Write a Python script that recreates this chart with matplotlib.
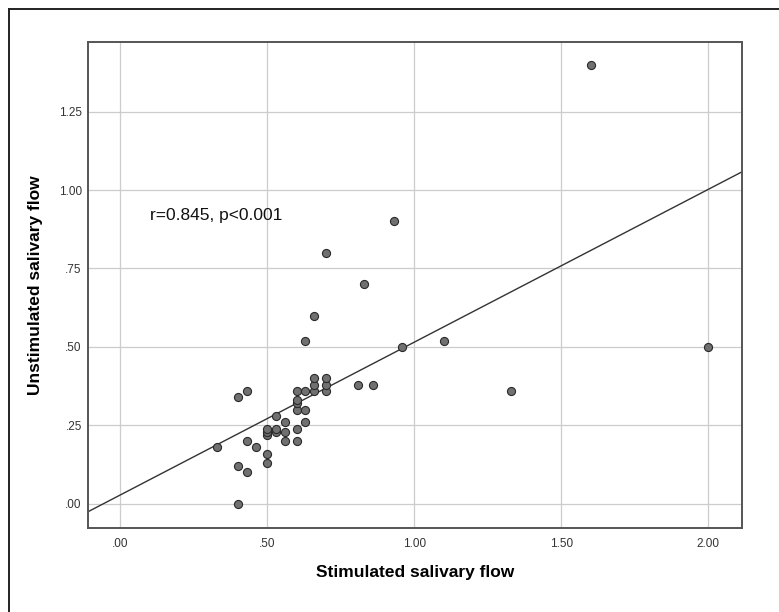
import numpy as np
import matplotlib
matplotlib.use("Agg")
import matplotlib.pyplot as plt
from matplotlib.lines import Line2D

plt.rcParams['font.family'] = ['Liberation Sans', 'DejaVu Sans']

# stimulated / unstimulated salivary flow
stimulated = [0.40, 0.43, 0.40, 0.50, 0.50, 0.33, 0.46, 0.43, 0.56, 0.60,
              0.50, 0.50, 0.50, 0.53, 0.53, 0.56, 0.60, 0.56, 0.63, 0.53,
              0.60, 0.63, 0.60, 0.60, 0.40, 0.43, 0.60, 0.63, 0.66, 0.66,
              0.66, 0.70, 0.70, 0.70, 0.81, 0.86, 0.63, 0.96, 0.66, 0.83,
              0.70, 0.93, 1.10, 1.33, 1.60, 2.00]
unstimulated = [0.00, 0.10, 0.12, 0.13, 0.16, 0.18, 0.18, 0.20, 0.20, 0.20,
                0.22, 0.23, 0.24, 0.23, 0.24, 0.23, 0.24, 0.26, 0.26, 0.28,
                0.30, 0.30, 0.32, 0.33, 0.34, 0.36, 0.36, 0.36, 0.36, 0.38,
                0.40, 0.36, 0.38, 0.40, 0.38, 0.38, 0.52, 0.50, 0.60, 0.70,
                0.80, 0.90, 0.52, 0.36, 1.40, 0.50]
x_ticks = [0.0, 0.5, 1.0, 1.5, 2.0]
x_labels = ['.00', '.50', '1.00', '1.50', '2.00']
y_ticks = [0.0, 0.25, 0.5, 0.75, 1.0, 1.25]
y_labels = ['.00', '.25', '.50', '.75', '1.00', '1.25']
annot = 'r=0.845, p<0.001'

x = np.array(stimulated)
y = np.array(unstimulated)

fig = plt.figure(figsize=(7.79, 6.12), dpi=100)
ax = fig.add_axes([0.113, 0.137, 0.839, 0.795])

# outer frame (only top and left edge are inside the picture)
fx = 8.5 / 779
fy = 1 - 9 / 612
fig.add_artist(Line2D([fx, fx], [0, fy], transform=fig.transFigure,
                      color='#222222', lw=1.4))
fig.add_artist(Line2D([fx, 1], [fy, fy], transform=fig.transFigure,
                      color='#222222', lw=1.4))

ax.set_xlim(-0.11, 2.114)
ax.set_ylim(-0.0775, 1.473)
ax.set_xticks(x_ticks)
ax.set_xticklabels(x_labels)
ax.set_yticks(y_ticks)
ax.set_yticklabels(y_labels)
ax.grid(True, color='#cccccc', lw=0.9)
ax.set_axisbelow(True)
ax.tick_params(length=0, labelsize=8.5, labelcolor='#333333')
ax.tick_params(axis='x', pad=7)
ax.tick_params(axis='y', pad=4.5)
for s in ax.spines.values():
    s.set_color('#555555')
    s.set_linewidth(1.4)

# fit line
k, b = np.polyfit(x, y, 1)
xx = np.array(ax.get_xlim())
ax.plot(xx, k * xx + b, color='#333333', lw=1.0, zorder=2)

ax.scatter(x, y, s=34, c='#707070', edgecolors='#2a2a2a', linewidths=0.8, zorder=3)

ax.text(0.101, 0.92, annot, fontsize=12.5, va='center', ha='left', color='#111111')

ax.set_xlabel('Stimulated salivary flow', fontsize=12.5, fontweight='bold', labelpad=11)
ax.set_ylabel('Unstimulated salivary flow', fontsize=12.5, fontweight='bold', labelpad=11)

fig.savefig('out.png', dpi=100)
